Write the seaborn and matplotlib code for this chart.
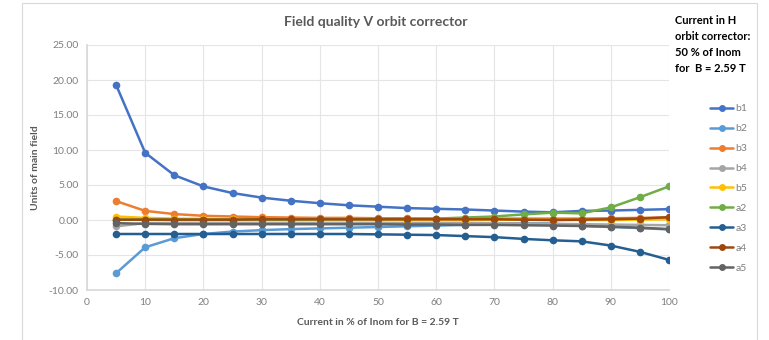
import matplotlib
matplotlib.use("Agg")
import matplotlib.pyplot as plt
import seaborn as sns
import pandas as pd
from matplotlib.patches import Rectangle

current = [5, 10, 15, 20, 25, 30, 35, 40, 45, 50, 55, 60, 65, 70, 75, 80, 85, 90, 95, 100]
b1 = [19.3, 9.6, 6.4, 4.8, 3.85, 3.2, 2.75, 2.4, 2.1, 1.9, 1.7, 1.6, 1.5, 1.35, 1.2, 1.1, 1.3, 1.35, 1.45, 1.55]
b2 = [-7.6, -3.9, -2.6, -2.0, -1.65, -1.45, -1.3, -1.2, -1.1, -1.0, -0.9, -0.8, -0.7, -0.55, -0.45, -0.5, -0.85, -1.0, -1.15, -1.35]
b3 = [2.7, 1.3, 0.85, 0.6, 0.5, 0.4, 0.35, 0.3, 0.3, 0.25, 0.25, 0.2, 0.2, 0.2, 0.2, 0.2, 0.2, 0.25, 0.3, 0.35]
b4 = [-0.9, -0.45, -0.4, -0.4, -0.4, -0.4, -0.4, -0.4, -0.4, -0.4, -0.4, -0.4, -0.4, -0.45, -0.5, -0.55, -0.6, -0.65, -0.7, -0.75]
b5 = [0.5, 0.3, 0.2, 0.15, 0.1, 0.1, 0.1, 0.1, 0.1, 0.05, 0.05, 0.05, 0.05, 0.05, 0.05, 0.0, 0.0, 0.0, 0.05, 0.1]
a2 = [0.05, 0.05, 0.05, 0.05, 0.05, 0.05, 0.05, 0.1, 0.1, 0.1, 0.15, 0.2, 0.35, 0.5, 0.8, 1.05, 0.95, 1.8, 3.25, 4.8]
a3 = [-2.0, -2.0, -2.0, -2.0, -2.0, -2.0, -2.0, -2.0, -2.0, -2.05, -2.1, -2.15, -2.3, -2.45, -2.7, -2.9, -3.05, -3.65, -4.55, -5.7]
a4 = [0.05, 0.05, 0.05, 0.05, 0.05, 0.1, 0.1, 0.1, 0.1, 0.1, 0.1, 0.1, 0.1, 0.1, 0.05, 0.0, 0.05, 0.1, 0.2, 0.4]
a5 = [-0.45, -0.55, -0.6, -0.6, -0.6, -0.6, -0.6, -0.6, -0.6, -0.6, -0.65, -0.65, -0.7, -0.7, -0.75, -0.8, -0.85, -0.95, -1.1, -1.3]

series_names = ["b1", "b2", "b3", "b4", "b5", "a2", "a3", "a4", "a5"]
series_values = [b1, b2, b3, b4, b5, a2, a3, a4, a5]
colors = ["#4472C4", "#5B9BD5", "#ED7D31", "#A5A5A5", "#FFC000",
          "#70AD47", "#255E91", "#9E480E", "#636363"]

y_ticks = [-10, -5, 0, 5, 10, 15, 20, 25]
x_ticks = [0, 10, 20, 30, 40, 50, 60, 70, 80, 90, 100]

rows = []
for name, vals in zip(series_names, series_values):
    for x, v in zip(current, vals):
        rows.append({"current": x, "value": v, "series": name})
df = pd.DataFrame(rows)

sns.set_theme(style="white")
plt.rcParams["font.family"] = ["Lato", "DejaVu Sans"]

fig = plt.figure(figsize=(7.69, 3.4), dpi=100)
ax = fig.add_axes([87 / 769, 1 - 290 / 340, (669 - 87) / 769, (290 - 45) / 340])

# outer chart border
fig.patches.append(Rectangle((22 / 769, -0.05), (757 - 22) / 769, 1.04,
                             transform=fig.transFigure, fill=False,
                             edgecolor="#D9D9D9", linewidth=0.8))

sns.lineplot(data=df, x="current", y="value", hue="series", hue_order=series_names,
             palette=colors, marker="o", markersize=5.5, markeredgewidth=0,
             linewidth=1.8, ax=ax, legend=True)

ax.set_xlim(0, 100)
ax.set_ylim(-10, 25)
ax.set_xticks(x_ticks)
ax.set_yticks(y_ticks)
ax.set_yticklabels([f"{t:.2f}" for t in y_ticks])
ax.grid(True, color="#E5E5E5", linewidth=0.8)
ax.set_axisbelow(True)
for s in ["top", "right"]:
    ax.spines[s].set_visible(False)
ax.spines["left"].set_color("#D9D9D9")
ax.spines["bottom"].set_color("#D9D9D9")
ax.tick_params(axis="both", labelsize=7.5, colors="#7F7F7F", length=0, pad=6)

ax.set_xlabel("Current in % of Inom for B = 2.59 T", fontsize=7.5, fontweight="bold",
              color="#595959", labelpad=8)
ax.set_ylabel("Units of main field", fontsize=7.5, fontweight="bold",
              color="#595959", labelpad=6)

fig.text(376 / 769, 1 - 22 / 340, "Field quality V orbit corrector", fontsize=10,
         fontweight="bold", color="#595959", ha="center", va="center")

fig.text(675 / 769, 1 - 15 / 340,
         "Current in H\norbit corrector:\n50 % of Inom\nfor  B = 2.59 T",
         fontsize=8, fontweight="bold", color="black", ha="left", va="top",
         linespacing=1.55)

handles, labels = ax.get_legend_handles_labels()
for h in handles:
    h.set_markersize(5)
leg = ax.legend(handles, labels, loc="upper left", bbox_to_anchor=(706 / 769, 1 - 100 / 340),
                bbox_transform=fig.transFigure, frameon=False, fontsize=7.5,
                handlelength=2.2, handletextpad=0.25, labelspacing=1.02,
                borderaxespad=0)
for t in leg.get_texts():
    t.set_color("#7F7F7F")

fig.savefig("out.png", dpi=100)
